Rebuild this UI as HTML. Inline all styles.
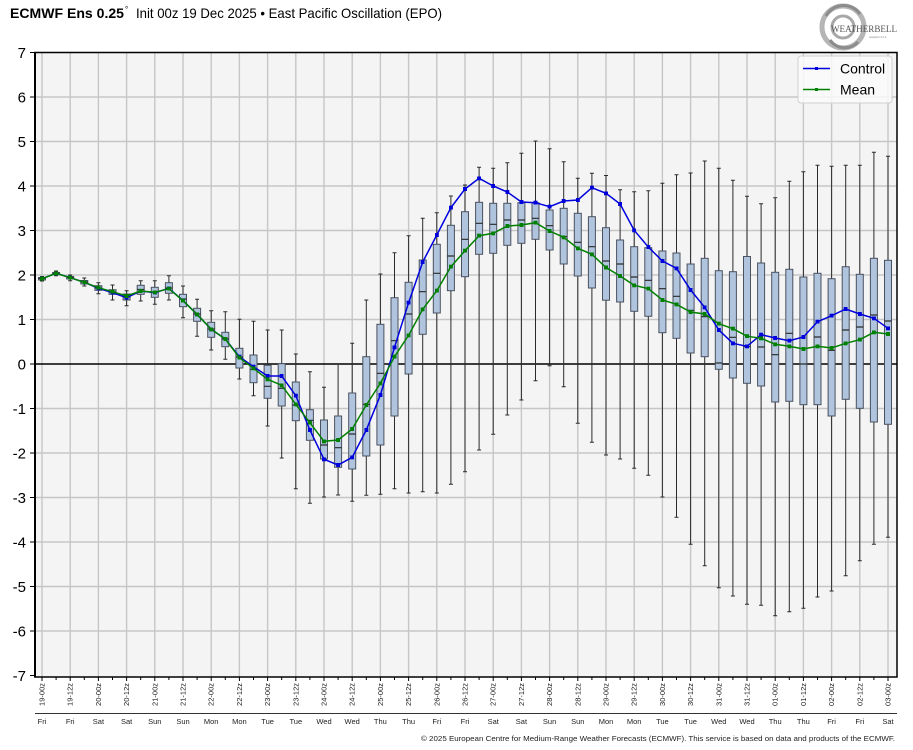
<!DOCTYPE html>
<html><head><meta charset="utf-8"><style>
html,body{margin:0;padding:0;background:#fff;}
svg{display:block;}
</style></head><body>
<svg width="913" height="750" viewBox="0 0 913 750" xmlns="http://www.w3.org/2000/svg" font-family="'Liberation Sans', 'DejaVu Sans', sans-serif">
<defs>
<marker id="mb" viewBox="0 0 4 4" refX="2" refY="2" markerWidth="4" markerHeight="4" markerUnits="userSpaceOnUse"><rect width="4" height="4" fill="#0000dd"/></marker>
<marker id="mg" viewBox="0 0 4 4" refX="2" refY="2" markerWidth="4" markerHeight="4" markerUnits="userSpaceOnUse"><rect width="4" height="4" fill="#008000"/></marker>
</defs>
<rect width="913" height="750" fill="#fff"/>
<!-- title -->
<text x="10" y="18" font-size="14" font-weight="bold" fill="#000" textLength="114" lengthAdjust="spacingAndGlyphs">ECMWF Ens 0.25</text>
<text x="125" y="12" font-size="8" fill="#000">°</text>
<text x="136" y="18" font-size="14" fill="#000" textLength="306" lengthAdjust="spacingAndGlyphs">Init 00z 19 Dec 2025 • East Pacific Oscillation (EPO)</text>
<!-- logo -->
<g fill="none" stroke="#9a9a9a">
<circle cx="843" cy="27" r="21" stroke-width="5" stroke="#b5b5b5"/>
<path d="M826 16 A20 20 0 0 1 860 14" stroke-width="3" stroke="#8c8c8c"/>
<path d="M830 40 A18 18 0 0 0 858 42" stroke-width="3" stroke="#8c8c8c"/>
<circle cx="843" cy="27" r="11" stroke-width="3" stroke="#a8a8a8"/>
</g>
<text x="831" y="32" font-family="'Liberation Serif', serif" font-size="9" fill="#555" textLength="66" lengthAdjust="spacingAndGlyphs">WEATHERBELL</text>
<text x="869" y="38" font-family="'Liberation Serif', serif" font-size="3" fill="#777">Analytics LLC</text>
<!-- plot background -->
<rect x="35" y="52.5" width="862" height="624.5" fill="#f4f4f4"/>
<!-- grid -->
<g stroke="#c6c6c6" stroke-width="1.4">
<path d="M42 52.5V677M70.2 52.5V677M98.4 52.5V677M126.6 52.5V677M154.8 52.5V677M183 52.5V677M211.2 52.5V677M239.4 52.5V677M267.6 52.5V677M295.8 52.5V677M324 52.5V677M352.2 52.5V677M380.4 52.5V677M408.6 52.5V677M436.8 52.5V677M465 52.5V677M493.2 52.5V677M521.4 52.5V677M549.6 52.5V677M577.8 52.5V677M606 52.5V677M634.2 52.5V677M662.4 52.5V677M690.6 52.5V677M718.8 52.5V677M747 52.5V677M775.2 52.5V677M803.4 52.5V677M831.6 52.5V677M859.8 52.5V677M888 52.5V677"/>
<path d="M35 97H897M35 141.5H897M35 186H897M35 230.5H897M35 275H897M35 319.5H897M35 408.5H897M35 453H897M35 497.5H897M35 542H897M35 586.5H897M35 631H897"/>
</g>
<!-- zero line -->
<path d="M35 364H897" stroke="#000" stroke-width="1.5"/>
<!-- whiskers -->
<g stroke="#2a2a2a" stroke-width="1" fill="none">
<path d="M42 276.5V281M56.1 271V275.7M70.2 275V280.7M84.3 278V286M98.4 282.7V293.7M112.5 285V300M126.6 290.7V305.7M140.7 280.7V301M154.8 280.7V304.3M168.9 275.7V300M183 286V317.7M197.1 299.3V336.3M211.2 310.7V350M225.3 311.7V359.3M239.4 319.3V379M253.5 321.3V395.7M267.6 330V426M281.7 330V458M295.8 354V488.7M309.9 371.7V503.3M324 387.3V497M338.1 363.7V495M352.2 343.3V501.3M366.3 300V495.3M380.4 274V494.3M394.5 252.7V488.7M408.6 235.7V493M422.7 218.3V491.7M436.8 212.7V493M450.9 196V484.3M465 185V471.7M479.1 167.3V450M493.2 168.3V434.3M507.3 162.7V415M521.4 153.3V400M535.5 141V380.7M549.6 148.7V365.7M563.7 161.7V386.7M577.8 178.3V423.3M591.9 173.3V442.3M606 175.5V455M620.1 189.7V459M634.2 191.7V468.3M648.3 190.7V475.3M662.4 183.3V497M676.5 174.7V517.3M690.6 173V544.3M704.7 161V565.7M718.8 168.3V587.7M732.9 180.3V596M747 196.3V604.2M761.1 203.7V605.3M775.2 197.7V615.7M789.3 181.3V611.7M803.4 171.7V608.3M817.5 165.3V597M831.6 166.3V591M845.7 165.3V575.7M859.8 165.3V560.7M873.9 152.3V544.3M888 156.3V537.3"/>
<path d="M40 276.5h4M40 281h4M54.1 271h4M54.1 275.7h4M68.2 275h4M68.2 280.7h4M82.3 278h4M82.3 286h4M96.4 282.7h4M96.4 293.7h4M110.5 285h4M110.5 300h4M124.6 290.7h4M124.6 305.7h4M138.7 280.7h4M138.7 301h4M152.8 280.7h4M152.8 304.3h4M166.9 275.7h4M166.9 300h4M181 286h4M181 317.7h4M195.1 299.3h4M195.1 336.3h4M209.2 310.7h4M209.2 350h4M223.3 311.7h4M223.3 359.3h4M237.4 319.3h4M237.4 379h4M251.5 321.3h4M251.5 395.7h4M265.6 330h4M265.6 426h4M279.7 330h4M279.7 458h4M293.8 354h4M293.8 488.7h4M307.9 371.7h4M307.9 503.3h4M322 387.3h4M322 497h4M336.1 363.7h4M336.1 495h4M350.2 343.3h4M350.2 501.3h4M364.3 300h4M364.3 495.3h4M378.4 274h4M378.4 494.3h4M392.5 252.7h4M392.5 488.7h4M406.6 235.7h4M406.6 493h4M420.7 218.3h4M420.7 491.7h4M434.8 212.7h4M434.8 493h4M448.9 196h4M448.9 484.3h4M463 185h4M463 471.7h4M477.1 167.3h4M477.1 450h4M491.2 168.3h4M491.2 434.3h4M505.3 162.7h4M505.3 415h4M519.4 153.3h4M519.4 400h4M533.5 141h4M533.5 380.7h4M547.6 148.7h4M547.6 365.7h4M561.7 161.7h4M561.7 386.7h4M575.8 178.3h4M575.8 423.3h4M589.9 173.3h4M589.9 442.3h4M604 175.5h4M604 455h4M618.1 189.7h4M618.1 459h4M632.2 191.7h4M632.2 468.3h4M646.3 190.7h4M646.3 475.3h4M660.4 183.3h4M660.4 497h4M674.5 174.7h4M674.5 517.3h4M688.6 173h4M688.6 544.3h4M702.7 161h4M702.7 565.7h4M716.8 168.3h4M716.8 587.7h4M730.9 180.3h4M730.9 596h4M745 196.3h4M745 604.2h4M759.1 203.7h4M759.1 605.3h4M773.2 197.7h4M773.2 615.7h4M787.3 181.3h4M787.3 611.7h4M801.4 171.7h4M801.4 608.3h4M815.5 165.3h4M815.5 597h4M829.6 166.3h4M829.6 591h4M843.7 165.3h4M843.7 575.7h4M857.8 165.3h4M857.8 560.7h4M871.9 152.3h4M871.9 544.3h4M886 156.3h4M886 537.3h4"/>
</g>
<!-- boxes -->
<g fill="#b0c4de" stroke="#4a5260" stroke-width="1">
<rect x="38.5" y="277.5" width="7" height="2.5"/>
<rect x="52.6" y="272.5" width="7" height="2"/>
<rect x="66.7" y="276.5" width="7" height="2.5"/>
<rect x="80.8" y="280.5" width="7" height="3.5"/>
<rect x="94.9" y="285.7" width="7" height="4.6"/>
<rect x="109" y="289.7" width="7" height="4.6"/>
<rect x="123.1" y="294" width="7" height="6"/>
<rect x="137.2" y="285.3" width="7" height="9"/>
<rect x="151.3" y="287.3" width="7" height="10"/>
<rect x="165.4" y="282.7" width="7" height="10.6"/>
<rect x="179.5" y="294.3" width="7" height="12.4"/>
<rect x="193.6" y="308.3" width="7" height="13"/>
<rect x="207.7" y="322.3" width="7" height="15"/>
<rect x="221.8" y="332.3" width="7" height="14.4"/>
<rect x="235.9" y="348.3" width="7" height="19.7"/>
<rect x="250" y="355" width="7" height="27.7"/>
<rect x="264.1" y="365.3" width="7" height="33"/>
<rect x="278.2" y="363.7" width="7" height="42.3"/>
<rect x="292.3" y="382" width="7" height="38.7"/>
<rect x="306.4" y="409.7" width="7" height="30.6"/>
<rect x="320.5" y="420" width="7" height="39"/>
<rect x="334.6" y="416" width="7" height="51.3"/>
<rect x="348.7" y="393" width="7" height="76"/>
<rect x="362.8" y="356.7" width="7" height="99.3"/>
<rect x="376.9" y="324.3" width="7" height="120.7"/>
<rect x="391" y="297.7" width="7" height="118.3"/>
<rect x="405.1" y="282.3" width="7" height="91.7"/>
<rect x="419.2" y="260" width="7" height="74.3"/>
<rect x="433.3" y="244.3" width="7" height="68.7"/>
<rect x="447.4" y="225.3" width="7" height="65.4"/>
<rect x="461.5" y="211.7" width="7" height="65"/>
<rect x="475.6" y="202.3" width="7" height="52"/>
<rect x="489.7" y="203.3" width="7" height="50"/>
<rect x="503.8" y="203.3" width="7" height="42"/>
<rect x="517.9" y="202.7" width="7" height="40.6"/>
<rect x="532" y="202.7" width="7" height="36.6"/>
<rect x="546.1" y="210" width="7" height="40"/>
<rect x="560.2" y="208.3" width="7" height="55.7"/>
<rect x="574.3" y="213.3" width="7" height="62.7"/>
<rect x="588.4" y="216.7" width="7" height="71.3"/>
<rect x="602.5" y="227.7" width="7" height="72.5"/>
<rect x="616.6" y="240" width="7" height="62"/>
<rect x="630.7" y="246.7" width="7" height="64.6"/>
<rect x="644.8" y="247.7" width="7" height="68.6"/>
<rect x="658.9" y="251" width="7" height="81.7"/>
<rect x="673" y="253" width="7" height="85.3"/>
<rect x="687.1" y="264" width="7" height="89"/>
<rect x="701.2" y="258.3" width="7" height="98.4"/>
<rect x="715.3" y="270.7" width="7" height="98.6"/>
<rect x="729.4" y="271.7" width="7" height="106.3"/>
<rect x="743.5" y="256.5" width="7" height="126.8"/>
<rect x="757.6" y="263" width="7" height="123"/>
<rect x="771.7" y="272.3" width="7" height="129.7"/>
<rect x="785.8" y="269.3" width="7" height="132"/>
<rect x="799.9" y="277" width="7" height="127.7"/>
<rect x="814" y="273.3" width="7" height="131.4"/>
<rect x="828.1" y="278.7" width="7" height="137.3"/>
<rect x="842.2" y="266.7" width="7" height="132.6"/>
<rect x="856.3" y="274.3" width="7" height="134"/>
<rect x="870.4" y="258.3" width="7" height="163.7"/>
<rect x="884.5" y="260.3" width="7" height="164"/>
</g>
<!-- medians -->
<path stroke="#2a2a2a" stroke-width="1.2" fill="none" d="M38.5 278.5h7M52.6 273.5h7M66.7 277.5h7M80.8 282h7M94.9 288h7M109 292h7M123.1 297h7M137.2 289.5h7M151.3 292h7M165.4 288h7M179.5 299h7M193.6 314h7M207.7 329h7M221.8 339h7M235.9 357h7M250 369.3h7M264.1 386.3h7M278.2 388.3h7M292.3 405h7M306.4 420.3h7M320.5 445h7M334.6 447.7h7M348.7 434h7M362.8 404.3h7M376.9 373.3h7M391 340.7h7M405.1 314h7M419.2 291.7h7M433.3 273.3h7M447.4 256h7M461.5 239.3h7M475.6 223.3h7M489.7 224.3h7M503.8 220h7M517.9 220h7M532 218.3h7M546.1 225.7h7M560.2 236.7h7M574.3 242.3h7M588.4 246.7h7M602.5 261h7M616.6 264h7M630.7 277h7M644.8 280.3h7M658.9 288.7h7M673 296.3h7M687.1 310.3h7M701.2 316.7h7M715.3 363h7M729.4 337.3h7M743.5 346.7h7M757.6 347h7M771.7 354.7h7M785.8 333.3h7M799.9 364h7M814 337h7M828.1 350.3h7M842.2 330h7M856.3 327h7M870.4 315h7M884.5 321h7"/>
<!-- control -->
<polyline fill="none" stroke="#0000dd" stroke-width="1.5" marker-start="url(#mb)" marker-mid="url(#mb)" marker-end="url(#mb)" points="42,278.7 56.1,273.3 70.2,277.7 84.3,282.3 98.4,288.3 112.5,292.7 126.6,297.7 140.7,291 154.8,292.7 168.9,288.3 183,300.7 197.1,314.3 211.2,329.3 225.3,339 239.4,356.7 253.5,366.7 267.6,376 281.7,376 295.8,395.7 309.9,430 324,459.3 338.1,465 352.2,457.3 366.3,430 380.4,395 394.5,347.3 408.6,302.7 422.7,262 436.8,235 450.9,207.7 465,189 479.1,178.3 493.2,186 507.3,192 521.4,202 535.5,202.7 549.6,206.7 563.7,201 577.8,200 591.9,187.7 606,193.3 620.1,204 634.2,230.3 648.3,247 662.4,261 676.5,268.3 690.6,290 704.7,307.3 718.8,330 732.9,343.3 747,346.3 761.1,334.7 775.2,338 789.3,340.7 803.4,337 817.5,321.7 831.6,315.7 845.7,309 859.8,314 873.9,318.3 888,328.3"/>
<!-- mean -->
<polyline fill="none" stroke="#008000" stroke-width="1.5" marker-start="url(#mg)" marker-mid="url(#mg)" marker-end="url(#mg)" points="42,278.7 56.1,273.3 70.2,277.7 84.3,282.3 98.4,287.7 112.5,291.7 126.6,296 140.7,291 154.8,292.3 168.9,288.7 183,300.7 197.1,314.3 211.2,329.3 225.3,339 239.4,357.7 253.5,368.3 267.6,379.3 281.7,385.3 295.8,404.3 309.9,422.7 324,441.3 338.1,440 352.2,429 366.3,405 380.4,383.3 394.5,356.7 408.6,335.3 422.7,309.3 436.8,290.7 450.9,266.7 465,250.7 479.1,235.7 493.2,233.3 507.3,226 521.4,225 535.5,222.7 549.6,231 563.7,237.3 577.8,248.3 591.9,254.3 606,267.5 620.1,276 634.2,285.3 648.3,288.7 662.4,300 676.5,304.3 690.6,312 704.7,314 718.8,323.7 732.9,328.7 747,336.2 761.1,338.3 775.2,344.3 789.3,346.3 803.4,349 817.5,346.3 831.6,348 845.7,343.3 859.8,339.7 873.9,332.3 888,334"/>
<!-- frame -->
<rect x="35" y="52.5" width="862" height="624.5" fill="none" stroke="#000" stroke-width="1.5"/>
<path d="M35 52V677.5" stroke="#000" stroke-width="2"/>
<!-- legend -->
<rect x="798" y="56" width="94" height="47" rx="3" fill="#fafafa" fill-opacity="0.85" stroke="#d0d0d0"/>
<path d="M803 68.5H830" stroke="#0000dd" stroke-width="1.5"/>
<rect x="815" y="67" width="3" height="3" fill="#0000dd"/>
<path d="M803 89.5H830" stroke="#008000" stroke-width="1.5"/>
<rect x="815" y="88" width="3" height="3" fill="#008000"/>
<text x="840" y="73.5" font-size="14" fill="#000">Control</text>
<text x="840" y="94.5" font-size="14" fill="#000">Mean</text>
<!-- y ticks -->
<path stroke="#000" stroke-width="1" d="M30 52.5H35M30 97H35M30 141.5H35M30 186H35M30 230.5H35M30 275H35M30 319.5H35M30 364H35M30 408.5H35M30 453H35M30 497.5H35M30 542H35M30 586.5H35M30 631H35M30 675.5H35"/>
<g font-size="15" fill="#000" text-anchor="end">
<text x="26" y="58">7</text>
<text x="26" y="102.5">6</text>
<text x="26" y="147">5</text>
<text x="26" y="191.5">4</text>
<text x="26" y="236">3</text>
<text x="26" y="280.5">2</text>
<text x="26" y="325">1</text>
<text x="26" y="369.5">0</text>
<text x="26" y="414">-1</text>
<text x="26" y="458.5">-2</text>
<text x="26" y="503">-3</text>
<text x="26" y="547.5">-4</text>
<text x="26" y="592">-5</text>
<text x="26" y="636.5">-6</text>
<text x="26" y="681">-7</text>
</g>
<!-- x ticks -->
<path stroke="#000" stroke-width="1" d="M42 677V681M56.1 677V680M70.2 677V681M84.3 677V680M98.4 677V681M112.5 677V680M126.6 677V681M140.7 677V680M154.8 677V681M168.9 677V680M183 677V681M197.1 677V680M211.2 677V681M225.3 677V680M239.4 677V681M253.5 677V680M267.6 677V681M281.7 677V680M295.8 677V681M309.9 677V680M324 677V681M338.1 677V680M352.2 677V681M366.3 677V680M380.4 677V681M394.5 677V680M408.6 677V681M422.7 677V680M436.8 677V681M450.9 677V680M465 677V681M479.1 677V680M493.2 677V681M507.3 677V680M521.4 677V681M535.5 677V680M549.6 677V681M563.7 677V680M577.8 677V681M591.9 677V680M606 677V681M620.1 677V680M634.2 677V681M648.3 677V680M662.4 677V681M676.5 677V680M690.6 677V681M704.7 677V680M718.8 677V681M732.9 677V680M747 677V681M761.1 677V680M775.2 677V681M789.3 677V680M803.4 677V681M817.5 677V680M831.6 677V681M845.7 677V680M859.8 677V681M873.9 677V680M888 677V681"/>
<g font-size="7.5" fill="#222" text-anchor="end">
<text transform="translate(44.5,683) rotate(-90)">19-00z</text>
<text transform="translate(72.7,683) rotate(-90)">19-12z</text>
<text transform="translate(100.9,683) rotate(-90)">20-00z</text>
<text transform="translate(129.1,683) rotate(-90)">20-12z</text>
<text transform="translate(157.3,683) rotate(-90)">21-00z</text>
<text transform="translate(185.5,683) rotate(-90)">21-12z</text>
<text transform="translate(213.7,683) rotate(-90)">22-00z</text>
<text transform="translate(241.9,683) rotate(-90)">22-12z</text>
<text transform="translate(270.1,683) rotate(-90)">23-00z</text>
<text transform="translate(298.3,683) rotate(-90)">23-12z</text>
<text transform="translate(326.5,683) rotate(-90)">24-00z</text>
<text transform="translate(354.7,683) rotate(-90)">24-12z</text>
<text transform="translate(382.9,683) rotate(-90)">25-00z</text>
<text transform="translate(411.1,683) rotate(-90)">25-12z</text>
<text transform="translate(439.3,683) rotate(-90)">26-00z</text>
<text transform="translate(467.5,683) rotate(-90)">26-12z</text>
<text transform="translate(495.7,683) rotate(-90)">27-00z</text>
<text transform="translate(523.9,683) rotate(-90)">27-12z</text>
<text transform="translate(552.1,683) rotate(-90)">28-00z</text>
<text transform="translate(580.3,683) rotate(-90)">28-12z</text>
<text transform="translate(608.5,683) rotate(-90)">29-00z</text>
<text transform="translate(636.7,683) rotate(-90)">29-12z</text>
<text transform="translate(664.9,683) rotate(-90)">30-00z</text>
<text transform="translate(693.1,683) rotate(-90)">30-12z</text>
<text transform="translate(721.3,683) rotate(-90)">31-00z</text>
<text transform="translate(749.5,683) rotate(-90)">31-12z</text>
<text transform="translate(777.7,683) rotate(-90)">01-00z</text>
<text transform="translate(805.9,683) rotate(-90)">01-12z</text>
<text transform="translate(834.1,683) rotate(-90)">02-00z</text>
<text transform="translate(862.3,683) rotate(-90)">02-12z</text>
<text transform="translate(890.5,683) rotate(-90)">03-00z</text>
</g>
<path d="M35 713.5H897" stroke="#333" stroke-width="1"/>
<g font-size="7.5" fill="#222" text-anchor="middle">
<text x="42" y="724">Fri</text>
<text x="70.2" y="724">Fri</text>
<text x="98.4" y="724">Sat</text>
<text x="126.6" y="724">Sat</text>
<text x="154.8" y="724">Sun</text>
<text x="183" y="724">Sun</text>
<text x="211.2" y="724">Mon</text>
<text x="239.4" y="724">Mon</text>
<text x="267.6" y="724">Tue</text>
<text x="295.8" y="724">Tue</text>
<text x="324" y="724">Wed</text>
<text x="352.2" y="724">Wed</text>
<text x="380.4" y="724">Thu</text>
<text x="408.6" y="724">Thu</text>
<text x="436.8" y="724">Fri</text>
<text x="465" y="724">Fri</text>
<text x="493.2" y="724">Sat</text>
<text x="521.4" y="724">Sat</text>
<text x="549.6" y="724">Sun</text>
<text x="577.8" y="724">Sun</text>
<text x="606" y="724">Mon</text>
<text x="634.2" y="724">Mon</text>
<text x="662.4" y="724">Tue</text>
<text x="690.6" y="724">Tue</text>
<text x="718.8" y="724">Wed</text>
<text x="747" y="724">Wed</text>
<text x="775.2" y="724">Thu</text>
<text x="803.4" y="724">Thu</text>
<text x="831.6" y="724">Fri</text>
<text x="859.8" y="724">Fri</text>
<text x="888" y="724">Sat</text>
</g>
<text x="421" y="741" font-size="7.5" fill="#222" textLength="474" lengthAdjust="spacingAndGlyphs">© 2025 European Centre for Medium-Range Weather Forecasts (ECMWF). This service is based on data and products of the ECMWF.</text>
</svg>
</body></html>
